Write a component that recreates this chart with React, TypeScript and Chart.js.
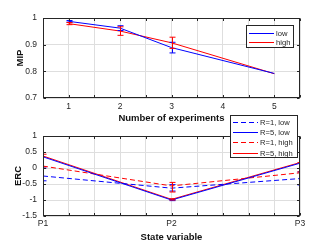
import React, { useEffect, useRef } from 'react';
import { Chart, registerables } from 'chart.js';
Chart.register(...registerables);

// ---------- Data ----------
const experiments = [1, 2, 3, 5];
const mipLow = [0.9875, 0.962, 0.889, 0.792];
const mipLowErr = [0.003, 0.009, 0.02, 0];
const mipHigh = [0.979, 0.951, 0.907, 0.791];
const mipHighErr = [0.004, 0.016, 0.021, 0];

const stateVars = ['P1', 'P2', 'P3'];
const ercR1Low = [-0.25, -0.63, -0.33];
const ercR1LowLo = [-0.4, -0.72, -0.53];
const ercR1LowHi = [0.0, -0.52, -0.12];
const ercR5Low = [0.35, -1.0, 0.15];
const ercR5LowLo = [0.35, -1.02, 0.15];
const ercR5LowHi = [0.35, -0.98, 0.15];
const ercR1High = [0.06, -0.56, -0.15];
const ercR1HighLo = [0.04, -0.75, -0.12];
const ercR1HighHi = [0.43, -0.45, 0.17];
const ercR5High = [0.375, -0.98, 0.17];
const ercR5HighLo = [0.375, -1.0, 0.17];
const ercR5HighHi = [0.375, -0.96, 0.17];

const mipTicks = [0.7, 0.8, 0.9, 1];
const ercTicks = [-1.5, -1, -0.5, 0, 0.5, 1];

const BLUE = '#0000ff';
const RED = '#ff0000';
const AXIS = '#262626';
const GRID = '#dedede';
const FONT = "'Liberation Sans', Arial, sans-serif";

const matlabPlugin = {
  id: 'matlab',
  afterDatasetsDraw(chart: any, _args: any, opts: any) {
    const ctx = chart.ctx;
    const { left, right, top, bottom } = chart.chartArea;
    const ys = chart.scales.y;
    const xs = chart.scales.x;
    // error bars
    ctx.save();
    ctx.beginPath();
    ctx.rect(left, top, right - left, bottom - top);
    ctx.clip();
    chart.data.datasets.forEach((ds: any, i: number) => {
      if (!ds.errLo) return;
      const meta = chart.getDatasetMeta(i);
      ctx.strokeStyle = ds.borderColor;
      ctx.lineWidth = 1;
      ctx.setLineDash([]);
      meta.data.forEach((pt: any, j: number) => {
        const lo = ds.errLo[j];
        const hi = ds.errHi[j];
        if (lo == null || lo === hi) return;
        const x = Math.round(pt.x) + 0.5;
        const y1 = ys.getPixelForValue(lo);
        const y2 = ys.getPixelForValue(hi);
        ctx.beginPath();
        ctx.moveTo(x, y1);
        ctx.lineTo(x, y2);
        ctx.moveTo(x - 3, y1);
        ctx.lineTo(x + 3, y1);
        ctx.moveTo(x - 3, y2);
        ctx.lineTo(x + 3, y2);
        ctx.stroke();
      });
    });
    ctx.restore();

    // box and inward ticks
    ctx.save();
    ctx.strokeStyle = AXIS;
    ctx.lineWidth = 1;
    ctx.setLineDash([]);
    const L = Math.round(left) + 0.5;
    const R = Math.round(right) - 0.5;
    const T = Math.round(top) + 0.5;
    const B = Math.round(bottom) - 0.5;
    ctx.strokeRect(L, T, R - L, B - T);
    const tl = 2.5;
    ctx.beginPath();
    xs.ticks.forEach((t: any) => {
      const x = Math.round(xs.getPixelForValue(t.value)) + 0.5;
      ctx.moveTo(x, B);
      ctx.lineTo(x, B - tl);
      ctx.moveTo(x, T);
      ctx.lineTo(x, T + tl);
    });
    ys.ticks.forEach((t: any) => {
      const y = Math.round(ys.getPixelForValue(t.value)) + 0.5;
      ctx.moveTo(L, y);
      ctx.lineTo(L + tl, y);
      ctx.moveTo(R, y);
      ctx.lineTo(R - tl, y);
    });
    ctx.stroke();
    ctx.restore();
  },
  afterDraw(chart: any, _args: any, opts: any) {
    if (!opts || !opts.box) return;
    const ctx = chart.ctx;
    const b = opts.box;
    ctx.save();
    ctx.fillStyle = '#ffffff';
    ctx.fillRect(b.x, b.y, b.w, b.h);
    ctx.strokeStyle = AXIS;
    ctx.lineWidth = 1;
    ctx.setLineDash([]);
    ctx.strokeRect(b.x + 0.5, b.y + 0.5, b.w - 1, b.h - 1);
    ctx.font = `${opts.fontSize}px ${FONT}`;
    ctx.textBaseline = 'middle';
    ctx.textAlign = 'left';
    chart.data.datasets.forEach((ds: any, i: number) => {
      const y = Math.round(b.y + opts.firstRow + i * opts.rowH) + 0.5;
      ctx.strokeStyle = ds.borderColor;
      ctx.setLineDash(ds.borderDash || []);
      ctx.beginPath();
      ctx.moveTo(b.x + opts.lineX0, y);
      ctx.lineTo(b.x + opts.lineX1, y);
      ctx.stroke();
      ctx.fillStyle = AXIS;
      ctx.fillText(ds.label, b.x + opts.textX, y);
    });
    ctx.restore();
  },
};

function baseScales(opts: any) {
  return {
    x: {
      type: 'linear',
      min: opts.xmin,
      max: opts.xmax,
      afterFit: (s: any) => {
        s.height = opts.xHeight;
      },
      afterBuildTicks: (s: any) => {
        s.ticks = opts.xTicks.map((v: number) => ({ value: v }));
      },
      ticks: {
        autoSkip: false,
        maxRotation: 0,
        minRotation: 0,
        padding: opts.xPad,
        color: AXIS,
        font: { family: FONT, size: 8.5 },
        callback: opts.xLabel,
      },
      grid: { color: GRID, lineWidth: 1, drawTicks: false },
      border: { display: false },
      title: {
        display: true,
        text: opts.xTitle,
        color: '#111111',
        font: { family: FONT, size: 9.5, weight: 'bold' },
        padding: { top: 0, bottom: opts.xTitlePad },
      },
    },
    y: {
      type: 'linear',
      min: opts.ymin,
      max: opts.ymax,
      afterFit: (s: any) => {
        s.width = 43;
      },
      afterBuildTicks: (s: any) => {
        s.ticks = opts.yTicks.map((v: number) => ({ value: v }));
      },
      ticks: {
        padding: 6,
        color: AXIS,
        font: { family: FONT, size: 8.5 },
        callback: (v: number) => String(Math.round(v * 100) / 100),
      },
      grid: { color: GRID, lineWidth: 1, drawTicks: false },
      border: { display: false },
      title: {
        display: true,
        text: opts.yTitle,
        color: '#111111',
        font: { family: FONT, size: 9.5, weight: 'bold' },
        padding: { top: opts.yTitlePad, bottom: 0 },
      },
    },
  };
}

function halfSteps(a: number, b: number, step: number) {
  const out: number[] = [];
  const n = Math.round((b - a) / step);
  for (let i = 0; i <= n; i++) out.push(Math.round((a + i * step) * 1000) / 1000);
  return out;
}

export default function App() {
  const topRef = useRef<HTMLCanvasElement>(null);
  const botRef = useRef<HTMLCanvasElement>(null);

  useEffect(() => {
    const line = (label: string, color: string, xs: number[], ys: number[], lo: number[], hi: number[], dash: number[] = []) => ({
      label,
      data: xs.map((x, i) => ({ x, y: ys[i] })),
      borderColor: color,
      backgroundColor: color,
      borderWidth: 1,
      borderDash: dash,
      pointRadius: 0,
      tension: 0,
      fill: false,
      errLo: lo,
      errHi: hi,
    });

    const top = new Chart(topRef.current as HTMLCanvasElement, {
      type: 'line',
      data: {
        datasets: [
          line('low', BLUE, experiments, mipLow,
            mipLow.map((v, i) => v - mipLowErr[i]), mipLow.map((v, i) => v + mipLowErr[i])),
          line('high', RED, experiments, mipHigh,
            mipHigh.map((v, i) => v - mipHighErr[i]), mipHigh.map((v, i) => v + mipHighErr[i])),
        ] as any,
      },
      options: {
        animation: false,
        responsive: false,
        devicePixelRatio: 1,
        layout: { padding: { left: 0, right: 32, top: 18, bottom: 0 } },
        plugins: {
          legend: { display: false },
          tooltip: { enabled: false },
          matlab: {
            box: { x: 246, y: 25, w: 48, h: 23 },
            fontSize: 7.6,
            firstRow: 7.5,
            rowH: 9.6,
            lineX0: 3,
            lineX1: 28,
            textX: 30,
          },
        } as any,
        scales: baseScales({
          xmin: 0.5,
          xmax: 5.5,
          xTicks: halfSteps(0.5, 5.5, 0.5),
          xLabel: (v: number) => (Math.abs(v - Math.round(v)) < 1e-6 ? String(Math.round(v)) : ''),
          xHeight: 27,
          xPad: 4,
          xTitle: 'Number of experiments',
          xTitlePad: 1,
          ymin: 0.7,
          ymax: 1,
          yTicks: mipTicks,
          yTitle: 'MIP',
          yTitlePad: 14.5,
        }) as any,
      },
      plugins: [matlabPlugin],
    });

    const xIdx = stateVars.map((_, i) => i + 1);
    const bot = new Chart(botRef.current as HTMLCanvasElement, {
      type: 'line',
      data: {
        datasets: [
          line('R=1, low', BLUE, xIdx, ercR1Low, ercR1LowLo, ercR1LowHi, [5, 3]),
          line('R=5, low', BLUE, xIdx, ercR5Low, ercR5LowLo, ercR5LowHi),
          line('R=1, high', RED, xIdx, ercR1High, ercR1HighLo, ercR1HighHi, [5, 3]),
          line('R=5, high', RED, xIdx, ercR5High, ercR5HighLo, ercR5HighHi),
        ] as any,
      },
      options: {
        animation: false,
        responsive: false,
        devicePixelRatio: 1,
        layout: { padding: { left: 0, right: 32, top: 136, bottom: 0 } },
        plugins: {
          legend: { display: false },
          tooltip: { enabled: false },
          matlab: {
            box: { x: 230, y: 115, w: 68, h: 43 },
            fontSize: 7.6,
            firstRow: 7,
            rowH: 10.2,
            lineX0: 3,
            lineX1: 28,
            textX: 30,
          },
        } as any,
        scales: baseScales({
          xmin: 1,
          xmax: 3,
          xTicks: halfSteps(1, 3, 0.2),
          xLabel: (v: number) => {
            const r = Math.round(v);
            return Math.abs(v - r) < 1e-6 ? stateVars[r - 1] : '';
          },
          xHeight: 33,
          xPad: 3,
          xTitle: 'State variable',
          xTitlePad: 6,
          ymin: -1.5,
          ymax: 1,
          yTicks: ercTicks,
          yTitle: 'ERC',
          yTitlePad: 12.5,
        }) as any,
      },
      plugins: [matlabPlugin],
    });

    return () => {
      top.destroy();
      bot.destroy();
    };
  }, []);

  return (
    <div style={{ position: 'fixed', left: 0, top: 0, width: 332, height: 249, background: '#ffffff' }}>
      <canvas ref={topRef} width={332} height={125} style={{ position: 'absolute', left: 0, top: 0, width: 332, height: 125 }} />
      <canvas ref={botRef} width={332} height={249} style={{ position: 'absolute', left: 0, top: 0, width: 332, height: 249 }} />
    </div>
  );
}
